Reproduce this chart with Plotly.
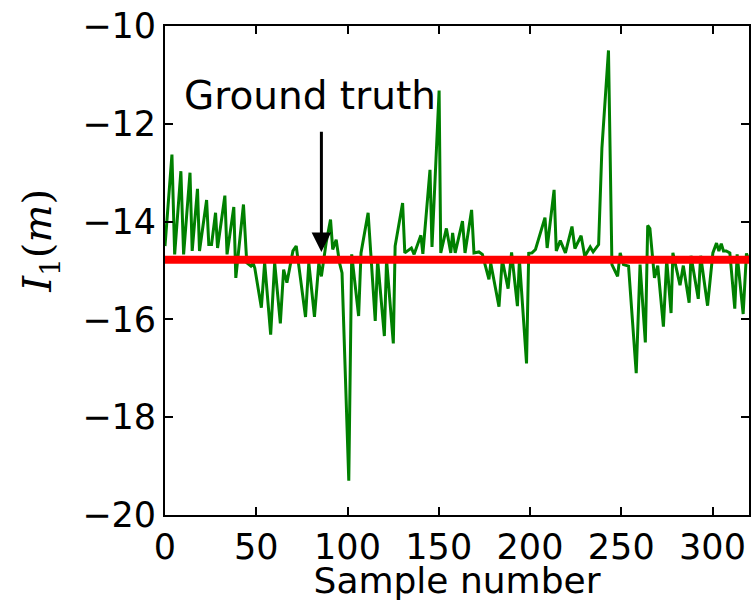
import plotly.graph_objects as go

# Sample positions (vertices of the estimate curve) and I1 values
sample_x = [0, 3.8, 5.3, 8.7, 10.2, 13.7, 14.9, 17.8, 18.9, 22.8, 24, 25.5, 27.7, 28.8,
            32.8, 34, 37.7, 38.8, 43, 44.8, 47.1, 48.3, 49.2, 52.8, 54.6, 57.9, 60.1,
            63.2, 65, 66.8, 70.1, 71.9, 77, 78.8, 81.9, 84.3, 85.7, 88.3, 90.7, 91.9,
            93.8, 95.6, 97, 100.7, 102.3, 106.1, 107.4, 111.3, 115.2, 116.5, 120.2,
            121.4, 125.1, 126.1, 130.2, 131.4, 135, 136.5, 140.2, 141.3, 145.2, 146.3,
            150.2, 151.1, 154.2, 156.6, 157.6, 159, 163, 164.4, 168, 169.3, 172, 173.9,
            177.5, 178.5, 183, 184.8, 188, 189.9, 193.1, 194.2, 198.1, 199.3, 201.1,
            203, 208.2, 209.4, 213.2, 214.4, 216.6, 219.4, 223, 224.6, 228, 230, 233,
            234.6, 237.6, 239.4, 243, 244.9, 248, 249.4, 251.2, 254, 258.2, 260.3,
            263.2, 264.5, 265.7, 268.2, 270, 273.1, 274.9, 277.3, 278.3, 282.2, 284,
            287.2, 288.2, 292.2, 293.5, 297.3, 300.2, 302.2, 303.5, 304.8, 306, 307.5,
            309.5, 312.2, 313.5, 316.8, 318.6, 320]
i1_values = [-14.5, -12.63, -14.67, -12.97, -14.67, -13.0, -14.6, -13.33, -14.6, -13.56,
             -14.47, -14.47, -13.82, -14.54, -13.47, -14.67, -13.7, -15.15, -13.65,
             -14.84, -14.91, -14.85, -14.95, -15.76, -14.84, -16.31, -14.84, -16.08,
             -14.98, -15.25, -14.6, -14.5, -15.95, -14.84, -15.95, -14.84, -15.12,
             -14.43, -13.96, -14.57, -14.37, -14.84, -15.05, -19.3, -14.67, -15.93,
             -14.64, -13.82, -16.03, -14.78, -16.34, -14.78, -16.49, -14.5, -13.62,
             -14.64, -14.54, -14.67, -14.28, -14.66, -12.94, -14.52, -11.32, -14.64,
             -14.14, -14.64, -14.23, -14.64, -13.99, -14.64, -13.76, -14.64, -14.62,
             -14.67, -15.18, -14.85, -15.74, -14.78, -15.37, -14.63, -15.73, -14.78,
             -16.9, -14.65, -14.64, -14.57, -13.92, -14.54, -13.35, -14.6, -14.39,
             -14.64, -14.1, -14.55, -14.29, -14.71, -14.52, -14.62, -14.47, -12.5,
             -10.5, -14.88, -15.12, -14.64, -14.88, -14.91, -17.1, -14.88, -16.47,
             -14.08, -14.14, -15.15, -14.9, -16.15, -14.78, -15.87, -14.64, -15.3,
             -14.9, -15.66, -14.7, -15.58, -14.7, -15.72, -14.64, -14.44, -14.6,
             -14.45, -14.6, -14.6, -14.64, -15.78, -14.67, -15.89, -14.65, -14.8]

ground_truth = -14.78
x_range = [0, 320]
y_range = [-20, -10]
x_ticks = [0, 50, 100, 150, 200, 250, 300]
y_ticks = [-20, -18, -16, -14, -12, -10]

arrow_x = 85.7
arrow_tail_y = -12.13
arrow_head_y = -14.62
label_x = 79.2
label_y = -11.42

fig = go.Figure()
fig.add_trace(go.Scatter(x=sample_x, y=i1_values, mode="lines",
                         line=dict(color="#008000", width=3), showlegend=False))
fig.add_trace(go.Scatter(x=x_range, y=[ground_truth, ground_truth], mode="lines",
                         line=dict(color="#ff0000", width=8), showlegend=False))

fig.add_annotation(x=arrow_x, y=arrow_head_y, ax=arrow_x, ay=arrow_tail_y,
                   xref="x", yref="y", axref="x", ayref="y", text="",
                   showarrow=True, arrowhead=2, arrowsize=1.3, arrowwidth=3,
                   arrowcolor="black")
fig.add_annotation(x=label_x, y=label_y, xref="x", yref="y", text="Ground truth",
                   showarrow=False, font=dict(family="DejaVu Sans", size=39, color="black"))

# y-axis label placed as a rotated text (matches reference position)
fig.add_annotation(x=-0.213, y=0.56, xref="paper", yref="paper",
                   text="<i>I</i><sub>1</sub>(<i>m</i>)", textangle=-90, showarrow=False,
                   xanchor="center", yanchor="middle",
                   font=dict(family="DejaVu Serif", size=40, color="black"))

axis_common = dict(showline=True, linecolor="black", linewidth=2, mirror="allticks",
                   ticks="inside", ticklen=8, tickwidth=1.5, tickcolor="black",
                   showgrid=False, zeroline=False,
                   tickfont=dict(family="DejaVu Sans", size=35, color="black"))

fig.update_xaxes(range=x_range, tickvals=x_ticks, **axis_common,
                 title=dict(text="Sample number", standoff=6,
                            font=dict(family="DejaVu Sans", size=36, color="black")))
fig.update_yaxes(range=y_range, tickvals=y_ticks, **axis_common)

fig.update_layout(width=753, height=601, margin=dict(l=165, r=2, t=26, b=86),
                  plot_bgcolor="white", paper_bgcolor="white")

fig.write_html("out.html")
